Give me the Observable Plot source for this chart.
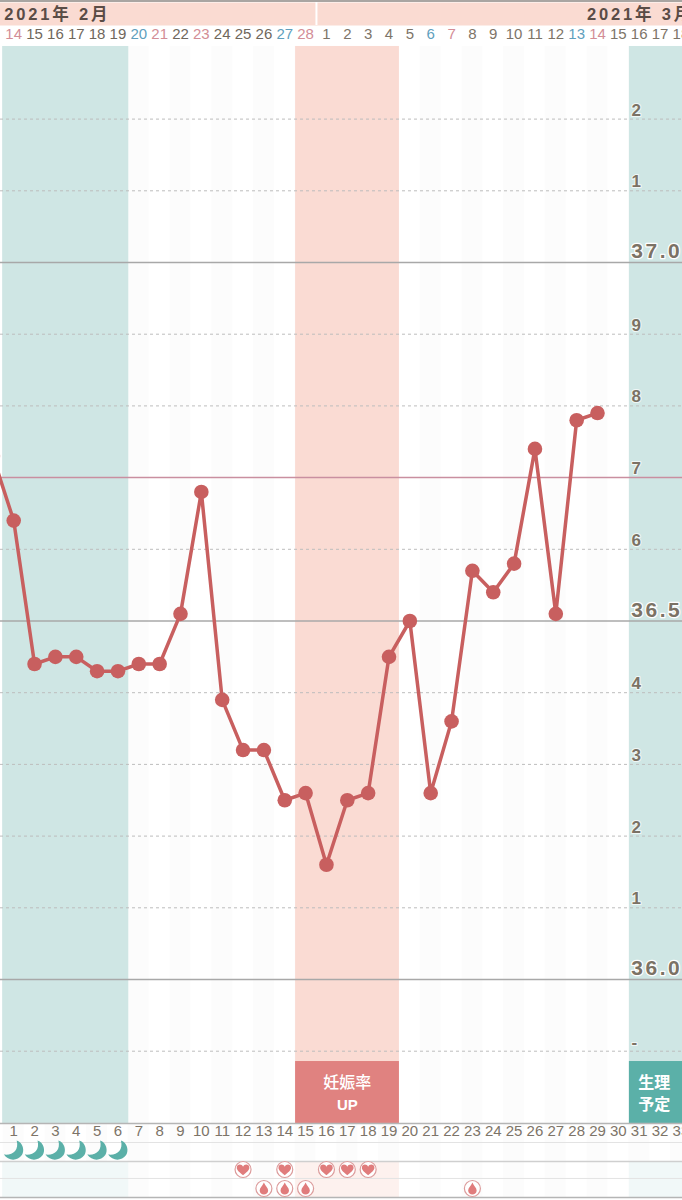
<!DOCTYPE html>
<html><head><meta charset="utf-8">
<style>
html,body{margin:0;padding:0;background:#fff;overflow:hidden}
</style>
<script src="https://cdn.jsdelivr.net/npm/d3@7"></script>
<script src="https://cdn.jsdelivr.net/npm/@observablehq/plot@0.6"></script>
</head><body><div id="chart"></div>
<script>
const cycleDays = [0,1,2,3,4,5,6,7,8,9,10,11,12,13,14,15,16,17,18,19,20,21,22,23,24,25,26,27,28,29];
const temps = [36.73,36.64,36.44,36.45,36.45,36.43,36.43,36.44,36.44,36.51,36.68,36.39,36.32,36.32,36.25,36.26,36.16,36.25,36.26,36.45,36.50,36.26,36.36,36.57,36.54,36.58,36.74,36.51,36.78,36.79];
const dateLabels = [14,15,16,17,18,19,20,21,22,23,24,25,26,27,28,1,2,3,4,5,6,7,8,9,10,11,12,13,14,15,16,17,18];
const blueCycle = [7,14,21,28];
const redCycle = [1,8,10,15,22,29];
const cycleLabels = d3.range(1,34);
const periodDays = [1,2,3,4,5,6];
const heartDays = [12,14,16,17,18];
const dropDays = [13,14,15,23];
const monthLabels = [{day:0.55,label:"2021年 2月"},{day:28.5,label:"2021年 3月"}];
const minorTicks = [
  {t:37.2,l:"2"},{t:37.1,l:"1"},{t:36.9,l:"9"},{t:36.8,l:"8"},{t:36.7,l:"7"},{t:36.6,l:"6"},
  {t:36.4,l:"4"},{t:36.3,l:"3"},{t:36.2,l:"2"},{t:36.1,l:"1"},{t:35.9,l:"-"}
];
const majorTicks = [{t:37.0,l:"37.0"},{t:36.5,l:"36.5"},{t:36.0,l:"36.0"}];
const dashedLevels = [37.2,37.1,36.9,36.8,36.6,36.4,36.3,36.2,36.1,35.9];
const tealBands = [[0.47,6.52],[30.53,34]];
const pinkBand = [14.52,19.5];

// vertical layout in temperature units
const TOP=37.3626, HEAD=37.3305, PLOT_TOP=37.3013, FLOOR=35.7992, BADGE=35.8856;
const R1=35.7727, R2=35.7462, R3=35.7225, R4=35.696;
const Y_DATE=37.318, Y_MONTH=37.346, Y_CYCLE=35.788, Y_MOON=35.7615, Y_HEART=35.735, Y_DROP=35.7085;

const teal=tealBands.map(([a,b])=>({a,b}));
const pink=[{a:pinkBand[0],b:pinkBand[1]}];
const stripes=d3.range(-1,35,2).map(d=>({a:d-.5,b:d+.5}));
const dateRows=dateLabels.map((l,i)=>{const day=i+1;return {day,l,c:blueCycle.includes(day)?"#5f9fbd":redCycle.includes(day)?"#d38d96":day<16?"#6f675c":"#7d7468"}});

const moon={draw(c,s){const r=Math.sqrt(s/Math.PI);
  c.moveTo(.3*r,-r);
  c.bezierCurveTo(.95*r,-.8*r,1.1*r,.05*r,.82*r,.45*r);
  c.bezierCurveTo(.35*r,1.1*r,-.55*r,1.05*r,-.98*r,.4*r);
  c.bezierCurveTo(-.1*r,.5*r,.55*r,0,.3*r,-r);
  c.closePath();}};
const heart={draw(c,s){const r=Math.sqrt(s/Math.PI);
  c.moveTo(0,r*.95);
  c.bezierCurveTo(-.55*r,.5*r,-1.05*r,.1*r,-1.05*r,-.3*r);
  c.bezierCurveTo(-1.05*r,-.95*r,-.2*r,-1*r,0,-.45*r);
  c.bezierCurveTo(.2*r,-1*r,1.05*r,-.95*r,1.05*r,-.3*r);
  c.bezierCurveTo(1.05*r,.1*r,.55*r,.5*r,0,r*.95);
  c.closePath();}};
const drop={draw(c,s){const r=Math.sqrt(s/Math.PI);
  c.moveTo(0,-1.2*r);
  c.bezierCurveTo(.25*r,-.6*r,.85*r,-.1*r,.85*r,.4*r);
  c.bezierCurveTo(.85*r,.95*r,.4*r,1.2*r,0,1.2*r);
  c.bezierCurveTo(-.4*r,1.2*r,-.85*r,.95*r,-.85*r,.4*r);
  c.bezierCurveTo(-.85*r,-.1*r,-.25*r,-.6*r,0,-1.2*r);
  c.closePath();}};

const tempRows=cycleDays.map((d,i)=>({d,t:temps[i]}));
const LATIN='"Liberation Sans",Arial,sans-serif';
const CJK='"Liberation Sans","Noto Sans CJK JP",sans-serif';
const rect=(data,y1,y2,fill,opt={})=>Plot.rect(data,{x1:"a",x2:"b",y1:()=>y1,y2:()=>y2,fill,...opt});

const plot=Plot.plot({
  width:682,height:1200,
  marginTop:0,marginBottom:0,marginLeft:0,marginRight:0,
  x:{domain:[1,29],range:[13.2,597],axis:null},
  y:{domain:[36,37],range:[979,262],axis:null},
  style:{fontFamily:CJK,background:"#fff"},
  marks:[
    rect(stripes,PLOT_TOP,R4,"#b8a49c",{fillOpacity:.035}),
    rect(teal,PLOT_TOP,FLOOR,"#cfe6e4"),
    rect(pink,PLOT_TOP,FLOOR,"#fadbd3"),
    rect(teal,R2,R4,"#f1f8f8"),
    rect(pink,R2,R4,"#fdf1ee"),
    // header
    Plot.ruleY([(TOP+HEAD)/2],{stroke:"#fadbd2",strokeWidth:23}),
    Plot.ruleY([TOP+.002],{stroke:"#a9a5a2",strokeWidth:2}),
    Plot.ruleX([15.52],{y1:TOP,y2:HEAD,stroke:"#fff",strokeWidth:2}),
    // grid
    Plot.ruleY(dashedLevels,{stroke:"#bdbdbd",strokeWidth:1,strokeDasharray:"3,3"}),
    Plot.ruleY([36.7],{stroke:"#c98fa0",strokeWidth:1.5}),
    Plot.ruleY(majorTicks,{y:"t",stroke:"#a8a8a8",strokeWidth:1.5}),
    // badges
    rect(pink,BADGE,FLOOR,"#e08280"),
    rect(teal.slice(1),BADGE,FLOOR,"#5bb0a8"),
    Plot.text(["妊娠率"],{x:()=>17,y:()=>35.856,fill:"#fff",fontSize:16,fontWeight:500}),
    Plot.text(["UP"],{x:()=>17,y:()=>35.8245,fill:"#fff",fontSize:15,fontWeight:700}),
    Plot.text(["生理"],{x:()=>31.72,y:()=>35.856,fill:"#fff",fontSize:16,fontWeight:700}),
    Plot.text(["予定"],{x:()=>31.72,y:()=>35.8245,fill:"#fff",fontSize:16,fontWeight:700}),
    // axis rows
    Plot.ruleY([FLOOR],{stroke:"#b5b5b5",strokeWidth:1.5}),
    Plot.ruleY([R1,R3],{stroke:"#e3e3e3",strokeWidth:1}),
    Plot.ruleY([R2],{stroke:"#cfcfcf",strokeWidth:1.5}),
    Plot.ruleY([R4],{stroke:"#b5b5b5",strokeWidth:1.5}),
    // y labels
    Plot.text(minorTicks,{x:()=>30.63,y:"t",text:"l",textAnchor:"start",dy:-9,fontSize:17,fontWeight:700,fontFamily:LATIN,fill:"#7b7265",stroke:"#fff",strokeWidth:2,strokeOpacity:.7,paintOrder:"stroke"}),
    Plot.text(majorTicks,{x:()=>30.62,y:"t",text:"l",textAnchor:"start",dy:-11,fontSize:21,fontWeight:700,fontFamily:LATIN,fill:"#7b7265",stroke:"#fff",strokeWidth:2.5,paintOrder:"stroke"}),
    // header text
    Plot.text(monthLabels,{x:"day",y:()=>Y_MONTH,text:"label",textAnchor:"start",fontSize:16.5,fontWeight:700,fill:"#5a4c46"}),
    Plot.text(dateRows,{x:"day",y:()=>Y_DATE,text:"l",fill:"c",fontSize:15,fontFamily:LATIN}),
    Plot.text(cycleLabels,{x:d=>d,y:()=>Y_CYCLE,text:d=>String(d),fill:"#7d7468",fontSize:15,fontFamily:LATIN}),
    // temperature
    Plot.line(tempRows,{x:"d",y:"t",stroke:"#c85f5f",strokeWidth:3.5,curve:"linear"}),
    Plot.dot(tempRows,{x:"d",y:"t",r:7.3,fill:"#c85f5f"}),
    // icons
    Plot.dot(periodDays,{x:d=>d,y:()=>Y_MOON,symbol:moon,r:10,fill:"#5bb0a8"}),
    Plot.dot(heartDays,{x:d=>d,y:()=>Y_HEART,r:8,fill:"#fff",stroke:"#dc9c9c",strokeWidth:1.2}),
    Plot.dot(heartDays,{x:d=>d,y:()=>Y_HEART,symbol:heart,r:6,fill:"#e07c7c"}),
    Plot.dot(dropDays,{x:d=>d,y:()=>Y_DROP,r:8,fill:"#fff",stroke:"#dc9c9c",strokeWidth:1.2}),
    Plot.dot(dropDays,{x:d=>d,y:()=>Y_DROP,symbol:drop,r:5,fill:"#e07c7c"})
  ]
});
plot.querySelectorAll("text").forEach(t=>{
  const s=t.textContent;
  if(s.startsWith("2021年")) t.style.letterSpacing="2.8px";
  else if(/^3\d\.\d$/.test(s)) t.style.letterSpacing="2.5px";
});
document.getElementById("chart").appendChild(plot);
</script></body></html>
